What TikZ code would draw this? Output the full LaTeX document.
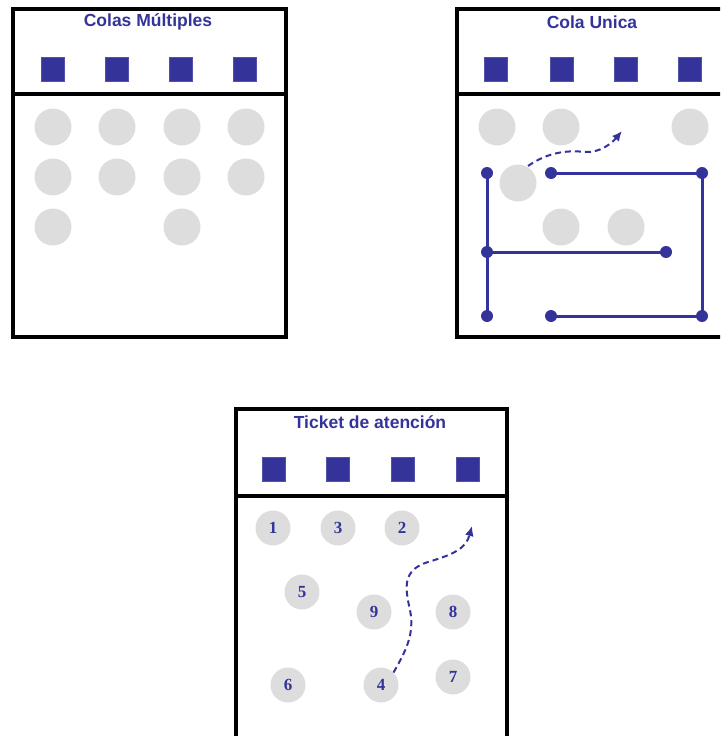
\documentclass[tikz,border=0pt]{standalone}
\usepackage{fontspec}
\setmainfont{Liberation Sans}
\newfontfamily\numfont{Liberation Serif}
\usetikzlibrary{arrows.meta}
\definecolor{qblue}{HTML}{333399}
\definecolor{qgray}{HTML}{DDDDDD}
\tikzset{
  frame/.style={draw=black,line width=3.3pt},
  desk/.style={fill=qblue,draw=qblue!85!white,line width=0.5pt,minimum width=23pt,minimum height=24pt,inner sep=0pt},
  person/.style={circle,fill=qgray,minimum size=37pt,inner sep=0pt},
  tperson/.style={circle,fill=qgray,minimum size=35pt,inner sep=0pt,font=\numfont\bfseries\fontsize{17}{17}\selectfont,text=qblue},
  paneltitle/.style={font=\bfseries\fontsize{17.5}{19}\selectfont,text=qblue},
  route/.style={draw=qblue,line width=3pt},
  dot/.style={circle,fill=qblue,minimum size=12pt,inner sep=0pt},
  flow/.style={draw=qblue,line width=2pt,dash pattern=on 6pt off 4pt,-{Latex[length=10pt,width=9pt]}}
}
\begin{document}
\begin{tikzpicture}[x=1pt,y=-1pt]
\useasboundingbox (0,0) rectangle (720,736);
\clip (0,0) rectangle (720,736);
% ---------- Panel 1: Colas Multiples ----------
\draw[frame] (13,9) rectangle (286,337);
\draw[frame] (13,94) -- (286,94);
\node[paneltitle] (t1) at (148,22) {Colas Múltiples};
\foreach \i/\x in {1/53,2/117,3/181,4/245}{
  \node[desk] (a\i) at (\x,69) {};
}
\foreach \n/\x/\y in {p1/53/127,p2/117/127,p3/182/127,p4/246/127,
                      p5/53/177,p6/117/177,p7/182/177,p8/246/177,
                      p9/53/227,p10/182/227}{
  \node[person] (a\n) at (\x,\y) {};
}
% ---------- Panel 2: Cola Unica ----------
\draw[frame] (457,9) rectangle (731,337);
\draw[frame] (457,94) -- (731,94);
\node[paneltitle] (t2) at (592,22) {Cola Unica};
\foreach \i/\x in {1/496,2/562,3/626,4/690}{
  \node[desk] (b\i) at (\x,69) {};
}
\foreach \n/\x/\y in {p1/497/127,p2/561/127,p3/690/127,p4/518/183,p5/561/227,p6/626/227}{
  \node[person] (b\n) at (\x,\y) {};
}
\node[dot] (d1) at (487,173) {};
\node[dot] (d2) at (487,252) {};
\node[dot] (d3) at (487,316) {};
\node[dot] (d4) at (666,252) {};
\node[dot] (d5) at (551,173) {};
\node[dot] (d6) at (702,173) {};
\node[dot] (d7) at (702,316) {};
\node[dot] (d8) at (551,316) {};
\draw[route] (d1.center) -- (d3.center);
\draw[route] (d2.center) -- (d4.center);
\draw[route] (d5.center) -- (d6.center) -- (d7.center) -- (d8.center);
\coordinate (f1s) at (528,166);
\coordinate (f1e) at (622,131);
\draw[flow] (f1s) .. controls (548,152) and (568,150) .. (585,152)
            .. controls (600,153) and (612,143) .. (f1e);
% ---------- Panel 3: Ticket de atencion ----------
\draw[frame] (236,409) rectangle (507,745);
\draw[frame] (236,496) -- (507,496);
\node[paneltitle] (t3) at (370,422) {Ticket de atención};
\foreach \i/\x in {1/274,2/338,3/403,4/468}{
  \node[desk] (c\i) at (\x,469) {};
}
\node[tperson] (n1) at (273,528) {1};
\node[tperson] (n3) at (338,528) {3};
\node[tperson] (n2) at (402,528) {2};
\node[tperson] (n5) at (302,592) {5};
\node[tperson] (n9) at (374,612) {9};
\node[tperson] (n8) at (453,612) {8};
\node[tperson] (n6) at (288,685) {6};
\node[tperson] (n4) at (381,685) {4};
\node[tperson] (n7) at (453,677) {7};
\coordinate (f2e) at (472,526);
\draw[flow] (n4.45) .. controls (405,652) and (415,635) .. (410,610)
            .. controls (405,588) and (402,570) .. (428,562)
            .. controls (455,554) and (466,548) .. (f2e);
\end{tikzpicture}
\end{document}
